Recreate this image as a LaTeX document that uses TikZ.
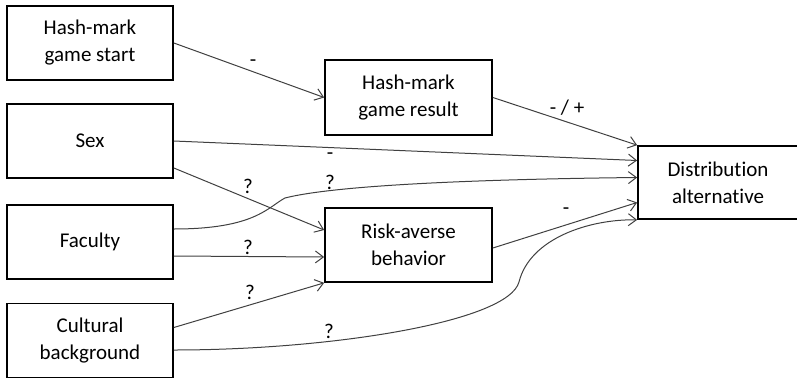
\documentclass[tikz,border=0pt]{standalone}
\usepackage{fontspec}
\setmainfont[Ligatures={NoCommon}]{Carlito}
\usetikzlibrary{arrows.meta}
\begin{document}
\begin{tikzpicture}[x=1pt,y=-1pt,
  box/.style={draw=black,line width=1.7pt,minimum width=166pt,minimum height=74pt,align=center,inner sep=0pt,font=\fontsize{21}{27}\selectfont},
  conn/.style={draw=black!75,line width=1pt,-{Straight Barb[length=8pt,width=12pt,line width=1pt]}},
  lbl/.style={font=\fontsize{21}{27}\selectfont,inner sep=0pt}]
\useasboundingbox (0,0) rectangle (797,380);
\node[box] (start) at (90,43) {Hash-mark\\game start};
\node[box] (sex) at (90,141) {Sex};
\node[box] (fac) at (90,242) {Faculty};
\node[box] (cult) at (90,340.5) {Cultural\\background};
\node[box,minimum width=167pt,minimum height=75pt] (res) at (408.5,97.5) {Hash-mark\\game result};
\node[box,minimum width=167pt] (risk) at (408.5,245) {Risk-averse\\behavior};
\node[box,minimum width=160pt,minimum height=73pt] (dist) at (718,182.5) {Distribution\\alternative};

\draw[conn] (start.east) -- (res.west);
\draw[conn] (res.east) -- (dist.north west);
\draw[conn] (sex.east) -- ([yshift=22pt]dist.west);
\draw[conn] ([yshift=13pt]fac.east) .. controls (255,229) and (268,207) .. (285,198)
   .. controls (340,184) and (500,179) .. ([yshift=5pt]dist.west);
\draw[conn] ([yshift=-27pt]sex.east) -- ([yshift=15pt]risk.west);
\draw[conn] ([yshift=-14pt]fac.east) -- ([yshift=-12pt]risk.west);
\draw[conn] ([yshift=13pt]cult.east) -- (risk.south west);
\draw[conn] ([yshift=-3pt]risk.east) -- ([yshift=-20pt]dist.west);
\draw[conn] ([yshift=-9.5pt]cult.east) .. controls (330,350) and (508,322) .. (519,282)
   .. controls (530,238) and (590,219) .. (dist.south west);

\node[lbl] (l1) at (253,63) {-};
\node[lbl] (l2) at (567,108) {- / +};
\node[lbl] (l3) at (330,156) {-};
\node[lbl] (l4) at (330,182) {?};
\node[lbl] (l5) at (248,186) {?};
\node[lbl] (l6) at (248,247) {?};
\node[lbl] (l7) at (250,292) {?};
\node[lbl] (l8) at (329,331) {?};
\node[lbl] (l9) at (566,211) {-};
\end{tikzpicture}
\end{document}
